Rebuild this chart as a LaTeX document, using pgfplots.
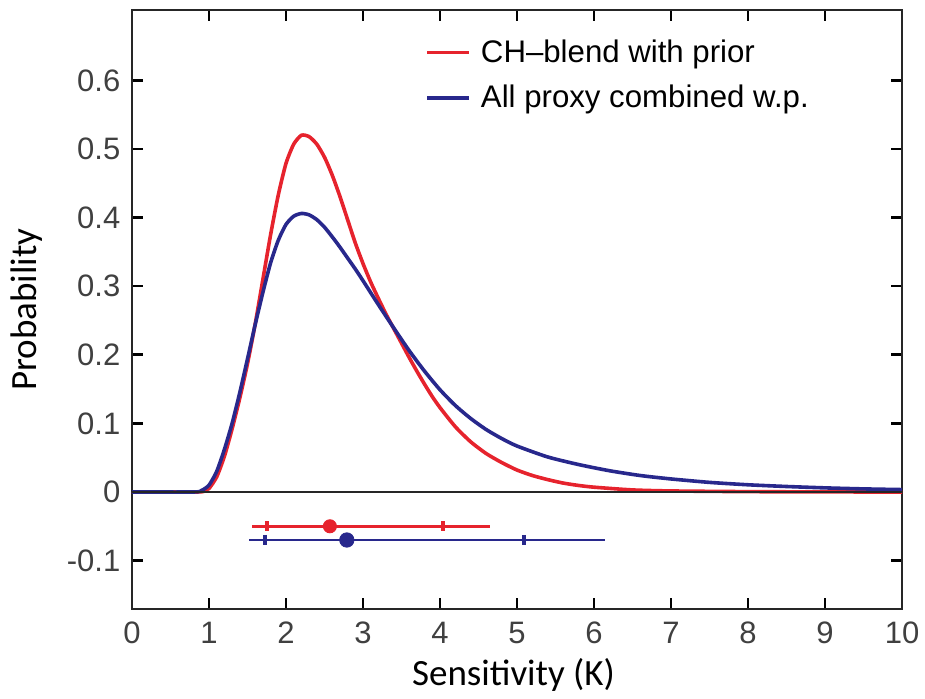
\documentclass[border=0pt]{standalone}
\usepackage{fontspec}
\setmainfont{Liberation Sans}
\newfontfamily\calibri{Carlito}
\usepackage{pgfplots}
\usepackage{pgfplotstable}
\pgfplotsset{compat=1.18}
\definecolor{cred}{RGB}{230,35,45}
\definecolor{cblue}{RGB}{40,40,140}

\pgfplotstableread{
x y
0 0
0.85 0
0.95 0.002
1.0 0.005
1.1 0.022
1.2 0.052
1.3 0.092
1.4 0.137
1.5 0.187
1.6 0.245
1.7 0.31
1.8 0.375
1.9 0.433
2.0 0.479
2.1 0.507
2.2 0.52
2.3 0.518
2.4 0.507
2.5 0.488
2.6 0.462
2.7 0.431
2.8 0.397
2.9 0.363
3.0 0.333
3.1 0.306
3.2 0.282
3.3 0.259
3.4 0.238
3.5 0.217
3.6 0.196
3.7 0.176
3.8 0.157
3.9 0.139
4.0 0.123
4.2 0.095
4.4 0.073
4.6 0.056
4.8 0.043
5.0 0.032
5.2 0.024
5.4 0.018
5.6 0.013
5.8 0.0095
6.0 0.007
6.5 0.003
7.0 0.0015
8.0 0.0005
9.0 0.0001
10 0
}\redtab

\pgfplotstableread{
x y
0 0
0.8 0
0.9 0.002
1.0 0.01
1.1 0.03
1.2 0.062
1.3 0.1
1.4 0.145
1.5 0.194
1.6 0.244
1.7 0.291
1.8 0.334
1.9 0.367
2.0 0.39
2.1 0.402
2.2 0.406
2.3 0.404
2.4 0.397
2.5 0.386
2.6 0.372
2.7 0.357
2.8 0.341
2.9 0.325
3.0 0.308
3.2 0.273
3.4 0.239
3.6 0.206
3.8 0.176
4.0 0.149
4.2 0.126
4.4 0.107
4.6 0.091
4.8 0.078
5.0 0.067
5.4 0.051
5.8 0.040
6.2 0.031
6.6 0.024
7.0 0.019
7.5 0.014
8.0 0.0105
8.5 0.008
9.0 0.006
9.5 0.0045
10 0.0035
}\bluetab

\begin{document}
\begin{tikzpicture}
\begin{axis}[
  scale only axis, width=385pt, height=299.5pt,
  xmin=0, xmax=10, ymin=-0.1706, ymax=0.7026,
  axis line style={line width=1.2pt, black!85},
  xtick={0,1,2,3,4,5,6,7,8,9,10},
  xticklabels={0,1,2,3,4,5,6,7,8,9,10},
  ytick={-0.1,0,0.1,0.2,0.3,0.4,0.5,0.6},
  yticklabels={-0.1,0,0.1,0.2,0.3,0.4,0.5,0.6},
  xtick pos=both, ytick pos=both,
  xticklabel pos=lower, yticklabel pos=left,
  tick align=inside,
  major tick length=5.5pt,
  major tick style={line width=1.3pt, draw=black},
  ticklabel style={font=\fontsize{15.5}{18}\selectfont, text=black!75},
  xticklabel style={yshift=-3pt},
  yticklabel style={xshift=-2.3pt},
  xlabel={Sensitivity (K)}, ylabel={Probability},
  label style={font=\calibri\fontsize{18.5}{22}\selectfont},
  xlabel style={at={(axis description cs:0.4955,-0.1269)}, anchor=base},
  ylabel style={at={(axis description cs:-0.1234,0.5)}, anchor=base},
  legend image code/.code={\draw[#1] (0pt,0pt) -- (21pt,0pt);},
  legend cell align=left,
  legend style={draw=none, fill=none, font=\fontsize{15.6}{18}\selectfont,
    at={(axis description cs:0.3805,0.958)}, anchor=north west,
    row sep=6pt, inner sep=0pt,
    /tikz/every odd column/.append style={column sep=3pt}},
]
\addplot[cred, line width=1.8pt, smooth, tension=0.4] table[x=x,y=y] {\redtab};
\addlegendentry{CH--blend with prior}
\addplot[cblue, line width=1.8pt, smooth, tension=0.4] table[x=x,y=y] {\bluetab};
\addlegendentry{All proxy combined w.p.}
\addplot[black!85, line width=1pt, forget plot] coordinates {(0,0) (10,0)};
% red interval
\addplot[cred, line width=1.7pt, forget plot] coordinates {(1.56,-0.05) (4.65,-0.05)};
\addplot[cred, only marks, mark=|, mark size=2.6pt, mark options={line width=2pt}, forget plot] coordinates {(1.75,-0.05) (4.04,-0.05)};
\addplot[cred, only marks, mark=*, mark size=3.3pt, forget plot] coordinates {(2.57,-0.05)};
% blue interval
\addplot[cblue, line width=1.4pt, forget plot] coordinates {(1.52,-0.07) (6.14,-0.07)};
\addplot[cblue, only marks, mark=|, mark size=2.6pt, mark options={line width=2pt}, forget plot] coordinates {(1.73,-0.07) (5.09,-0.07)};
\addplot[cblue, only marks, mark=*, mark size=3.6pt, forget plot] coordinates {(2.79,-0.07)};
\end{axis}
\pgfresetboundingbox
\path (-66pt,-44.5pt) rectangle (396.5pt,304.5pt);
\end{tikzpicture}
\end{document}
